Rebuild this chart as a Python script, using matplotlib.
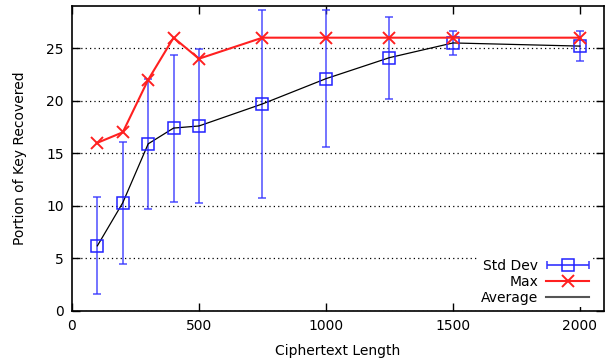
import matplotlib.pyplot as plt
from matplotlib.legend_handler import HandlerErrorbar

length = [100, 200, 300, 400, 500, 750, 1000, 1250, 1500, 2000]
avg = [6.2, 10.3, 15.9, 17.4, 17.6, 19.7, 22.1, 24.1, 25.5, 25.2]
err_lo = [1.6, 4.5, 9.7, 10.4, 10.3, 10.7, 15.6, 20.2, 24.4, 23.8]
err_hi = [10.8, 16.1, 22.1, 24.4, 24.9, 28.6, 28.6, 28.0, 26.6, 26.6]
mx = [16, 17, 22, 26, 24, 26, 26, 26, 26, 26]

plt.rcParams["font.family"] = "DejaVu Sans"
plt.rcParams["font.size"] = 10

fig = plt.figure(figsize=(6.05, 3.62), dpi=100)
ax = fig.add_axes([0.119, 0.141, 0.879, 0.842])

yerr = [[a - l for a, l in zip(avg, err_lo)], [h - a for a, h in zip(avg, err_hi)]]
ax.errorbar(length, avg, yerr=yerr, fmt="none", ecolor="#3333ff", elinewidth=1.2,
            capsize=3, capthick=1.2, alpha=0.8, zorder=3)
ax.plot(length, avg, color="black", lw=0.9, zorder=4)
ax.plot(length, avg, ls="none", marker="s", ms=8, mfc="none", mec="#2222ff",
        mew=1.1, zorder=5)
ax.plot(length, mx, color="#ff2020", lw=1.5, marker="x", ms=9, mew=1.4, zorder=6)

# legend proxies
nan = float("nan")
h_std = ax.errorbar([nan], [nan], xerr=[1], fmt="s", ms=8, mfc="none", mec="#2222ff",
                    mew=1.1, ecolor="#3333ff", elinewidth=1.2, capsize=3, capthick=1.2)
h_max, = ax.plot([], [], color="#ff2020", lw=1.5, marker="x", ms=9, mew=1.4)
h_avg, = ax.plot([], [], color="#555555", lw=1.5)
leg = ax.legend([h_std, h_max, h_avg], ["Std Dev", "Max", "Average"],
                loc="lower right", markerfirst=False, handlelength=3.1,
                labelspacing=0.15, borderpad=0.15, handletextpad=0.6,
                frameon=True, fancybox=False, framealpha=1, edgecolor="none",
                facecolor="white", bbox_to_anchor=(0.99, -0.01),
                handler_map={h_std: HandlerErrorbar(xerr_size=1.5)})
leg.set_zorder(2)

ax.set_xlim(0, 2094)
ax.set_ylim(0, 29)
ax.set_xticks([0, 500, 1000, 1500, 2000])
ax.set_yticks([0, 5, 10, 15, 20, 25])
ax.tick_params(direction="in", length=6, width=1, top=True, right=True, pad=6)
ax.yaxis.grid(True, color="black", ls=(0, (1, 2.5)), lw=0.9)
ax.set_axisbelow(True)
for s in ax.spines.values():
    s.set_linewidth(1.2)

ax.set_xlabel("Ciphertext Length", labelpad=8)
ax.set_ylabel("Portion of Key Recovered", labelpad=14)

fig.savefig("out.png", dpi=100)
